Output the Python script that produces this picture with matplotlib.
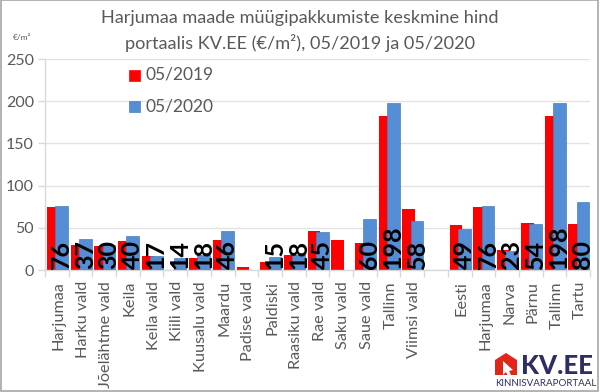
import matplotlib
matplotlib.use("Agg")
import matplotlib.pyplot as plt
from matplotlib.patches import Polygon, Rectangle
from matplotlib.transforms import ScaledTranslation
import numpy as np

plt.rcParams['font.family'] = ['Lato', 'DejaVu Sans']

categories = ["Harjumaa", "Harku vald", "Jõelähtme vald", "Keila", "Keila vald", "Kiili vald",
              "Kuusalu vald", "Maardu", "Padise vald", "Paldiski", "Raasiku vald", "Rae vald",
              "Saku vald", "Saue vald", "Tallinn", "Viimsi vald", "",
              "Eesti", "Harjumaa", "Narva", "Pärnu", "Tallinn", "Tartu"]
v2019 = [75, 30, 28, 34, 17, 0, 14, 36, 3, 9, 18, 46, 36, 32, 183, 72, 0, 53, 75, 24, 56, 183, 54]
v2020 = [76, 37, 30, 40, 17, 14, 18, 46, 0, 15, 18, 45, 0, 60, 198, 58, 0, 49, 76, 23, 54, 198, 80]
yticks = [0, 50, 100, 150, 200, 250]

GREY = '#595959'
W, H = 600, 392
fig = plt.figure(figsize=(6, 3.92), dpi=100, facecolor='white')
ax = fig.add_axes([45/W, 1-270/H, 545/W, 211/H])
x = np.arange(len(categories))
bw = 0.535
ax.bar(x-0.15, v2019, bw, color='#FF0000', zorder=2, label='05/2019')
ax.bar(x+0.2, v2020, bw, color='#558ED5', edgecolor='#4A7EBB', linewidth=0.5, zorder=3, label='05/2020')
for xi, v in zip(x, v2020):
    if v:
        ax.text(xi+0.2, 1, str(v), rotation=90, ha='center', va='bottom', color='black',
                fontsize=18, fontweight='bold', zorder=4, clip_on=False)
ax.set_xlim(-0.5, len(categories)-0.5)
ax.set_ylim(0, 250)
ax.set_yticks(yticks)
ax.set_yticklabels(yticks, fontsize=11.5, color=GREY)
ax.set_xticks(x)
ax.set_xticklabels(categories, rotation=90, fontsize=11.7, color=GREY)
ax.set_xticks(np.arange(-0.5, len(categories)), minor=True)
ax.tick_params(axis='x', which='major', length=0, pad=8)
ax.tick_params(axis='x', which='minor', length=5, color='#D9D9D9', width=1)
ax.tick_params(axis='y', length=5, color='#D9D9D9', width=1, pad=3)
ax.grid(axis='y', color='#E3E3E3', linewidth=1, zorder=0)
ax.set_axisbelow(True)
for s in ['top', 'right']:
    ax.spines[s].set_visible(False)
for s in ['left', 'bottom']:
    ax.spines[s].set_color('#D9D9D9')
    ax.spines[s].set_linewidth(1)
shift = ScaledTranslation(2/100, 0, fig.dpi_scale_trans)
for lab in ax.get_xticklabels():
    lab.set_transform(lab.get_transform() + shift)

fig.text(300/W, 1-18/H, "Harjumaa maade müügipakkumiste keskmine hind", ha='center', va='center', fontsize=13.1, color=GREY)
fig.text(300/W, 1-43/H, "portaalis KV.EE (€/m²), 05/2019 ja 05/2020", ha='center', va='center', fontsize=13.1, color=GREY)
fig.text(22/W, 1-37/H, "€/m²", ha='center', va='center', fontsize=6, color=GREY)

# legend
for yy, col, ec, lab in [(75, '#FF0000', '#FF0000', '05/2019'), (106, '#558ED5', '#4A7EBB', '05/2020')]:
    fig.add_artist(Rectangle((129/W, 1-(yy+5.5)/H), 11/W, 11/H, transform=fig.transFigure, facecolor=col, edgecolor=ec, linewidth=0.5))
    fig.text(145/W, 1-yy/H, lab, ha='left', va='center', fontsize=12.5, color=GREY)

# border
fig.add_artist(Rectangle((0.5/W, 0.8/H), 597/W, 1-1.3/H, transform=fig.transFigure, fill=False, edgecolor='#A6A6A6', linewidth=1.2))

# logo
outer = [(495, 375), (495, 360), (506, 353), (517, 360), (517, 375)]
fig.add_artist(Polygon([(a/W, 1-b/H) for a, b in outer], closed=True, transform=fig.transFigure, facecolor='#E1251B', edgecolor='none'))
cursor = [(503, 361), (503, 375), (506, 372), (508, 376), (511, 375), (509, 371), (513, 370)]
fig.add_artist(Polygon([(a/W, 1-b/H) for a, b in cursor], closed=True, transform=fig.transFigure, facecolor='white', edgecolor='none'))
fig.text(521/W, 1-366.5/H, "KV.EE", ha='left', va='center', fontsize=18.5, fontweight='black', color='#2B2F66')
fig.text(495/W, 1-383/H, "KINNISVARAPORTAAL", ha='left', va='center', fontsize=7, color='#2B2F66')

fig.savefig('out.png', dpi=100)
